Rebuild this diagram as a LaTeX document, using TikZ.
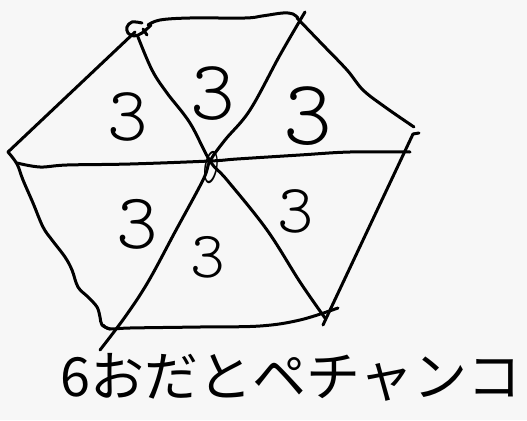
\documentclass[tikz,border=0pt]{standalone}
\usepackage{fontspec}
\newfontfamily\jp{Noto Sans CJK JP}
\newcommand{\handdigit}{\fontseries{l}\ttfamily}
\begin{document}
\begin{tikzpicture}[x=1pt,y=-1pt,
  pen/.style={line width=3pt,line cap=round,line join=round,black},
  digit/.style={inner sep=0pt,font=\handdigit}]
\useasboundingbox[fill=white!97!black] (0,0) rectangle (527,420);
% vertices
\coordinate (L) at (8,152);
\coordinate (TL) at (135,32);
\coordinate (T) at (305,12);
\coordinate (R) at (413,134);
\coordinate (BR) at (323,325);
\coordinate (BL) at (110,329);
\coordinate (C) at (210,161);
% outer edges
\draw[pen] (L) -- (TL);
\draw[pen] plot[smooth,tension=0.6] coordinates {(142,23) (132,22) (127,27) (128,33) (134,36) (142,33) (151,25)};
\draw[pen] (143,29) -- (147,35);
\draw[pen] plot[smooth,tension=0.6] coordinates {(148,25) (160,20) (190,18) (245,18) (262,16) (283,13) (293,14) (298,18)};
\draw[pen] plot[smooth,tension=0.6] coordinates {(297,18) (322,44) (347,70) (363,90) (385,107) (414,127)};
\draw[pen] (R) -- (419,133);
\draw[pen] (R) -- (BR);
\draw[pen] plot[smooth,tension=0.6] coordinates {(103,325) (BL) (130,328) (200,327) (260,326) (300,320) (338,308)};
\draw[pen] plot[smooth,tension=0.6] coordinates {(L) (17,164) (23,180) (33,203) (43,227) (52,240) (65,257) (72,270) (78,287) (88,297) (97,307) (100,317) (102,325) (BL)};
% through the centre
\draw[pen] plot[smooth,tension=0.6] coordinates {(17,163) (40,167) (67,165) (130,164) (C) (237,159) (300,155) (350,152) (410,152)};
\draw[pen] plot[smooth,tension=0.6] coordinates {(138,37) (152,70) (167,93) (190,123) (C) (227,180) (267,230) (300,282) (325,318)};
\draw[pen] plot[smooth,tension=0.6] coordinates {(T) (280,55) (250,110) (225,140) (C) (203,180) (175,232) (148,282) (125,317) (100,350)};
% numbers
\node[digit,font=\handdigit\fontsize{77}{77}\selectfont] (n1) at (128,117) {3};
\node[digit,font=\handdigit\fontsize{85}{85}\selectfont] (n2) at (213,94) {3};
\node[digit,font=\handdigit\fontsize{93}{93}\selectfont] (n3) at (308,116) {3};
\node[digit,font=\handdigit\fontsize{79}{79}\selectfont] (n4) at (137,224) {3};
\node[digit,font=\handdigit\fontsize{69}{69}\selectfont] (n5) at (296,211) {3};
\node[digit,font=\handdigit\fontsize{66}{66}\selectfont] (n6) at (208,257) {3};
\node[digit,font=\handdigit\fontsize{54}{54}\selectfont,xscale=0.55,rotate=-25] (z) at (211,168) {0};
% caption
\node[inner sep=0pt,font=\jp\fontsize{54}{54}\selectfont] (cap) at (291,377) {6おだとペチャンコ};
\end{tikzpicture}
\end{document}
